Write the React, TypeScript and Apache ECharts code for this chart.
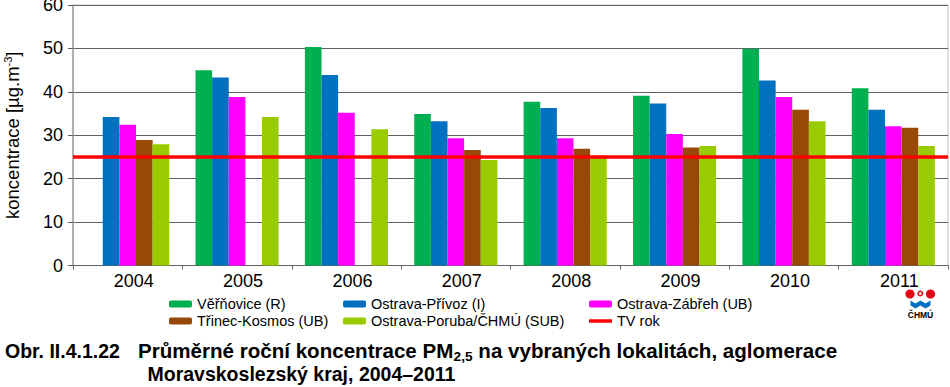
import React, { useEffect, useRef } from "react";
import * as echarts from "echarts";

const years = ["2004", "2005", "2006", "2007", "2008", "2009", "2010", "2011"];
const verinovice = [null, 45.0, 50.3, 34.9, 37.7, 39.1, 49.9, 40.8];
const privoz = [34.2, 43.3, 43.9, 33.2, 36.3, 37.3, 42.6, 35.9];
const zabreh = [32.4, 38.8, 35.2, 29.3, 29.3, 30.3, 38.8, 32.1];
const trinec = [28.9, null, null, 26.6, 26.9, 27.2, 35.9, 31.7];
const poruba = [27.9, 34.2, 31.4, 24.3, 25.3, 27.5, 33.2, 27.5];
const tvRok = 25;

const seriesNames = [
  "Věřňovice (R)",
  "Ostrava-Přívoz (I)",
  "Ostrava-Zábřeh (UB)",
  "Třinec-Kosmos (UB)",
  "Ostrava-Poruba/ČHMÚ (SUB)",
];
const seriesData = [verinovice, privoz, zabreh, trinec, poruba];
const colors = ["#00B050", "#0070C0", "#FF00FF", "#984807", "#99CC00"];
const lineName = "TV rok";

const FONT = "'Liberation Sans', Arial, sans-serif";

echarts.graphic.registerShape(
  "chmuWave",
  echarts.graphic.extendPath(
    "M0,0 L5,3 L10,0 L15,3 L20,0 L20,5 L15,8 L10,5 L5,8 L0,5 Z",
    {}
  )
);

export default function App() {
  const ref = useRef<HTMLDivElement>(null);
  useEffect(() => {
    if (!ref.current) return;
    const chart = echarts.init(ref.current, null, { renderer: "svg" });
    const legendCommon = {
      orient: "vertical",
      itemWidth: 23,
      itemHeight: 7,
      itemGap: 1,
      padding: 0,
      selectedMode: false,
      textStyle: { fontSize: 14.5, fontFamily: FONT, color: "#000", lineHeight: 16 },
    };
    chart.setOption({
      animation: false,
      backgroundColor: "#fff",
      grid: {
        left: 73,
        right: 2,
        top: 5,
        bottom: 121.5,
        show: true,
        borderColor: "#c0c0c0",
        borderWidth: 1,
        outerBoundsMode: "none",
        containLabel: false,
      },
      legend: [
        { ...legendCommon, left: 169, top: 296, data: [seriesNames[0], seriesNames[3]] },
        { ...legendCommon, left: 343, top: 296, data: [seriesNames[1], seriesNames[4]] },
        {
          ...legendCommon,
          left: 589,
          top: 296,
          data: [seriesNames[2], { name: lineName, icon: "path://M0,0H23V3.5H0Z" }],
        },
      ],
      xAxis: {
        type: "category",
        data: years,
        axisLine: { lineStyle: { color: "#606060", width: 1 } },
        axisTick: { show: true, length: 4, lineStyle: { color: "#606060" } },
        axisLabel: {
          fontSize: 18,
          fontFamily: FONT,
          color: "#000",
          margin: 6,
          padding: [0, 0, 0, 12],
        },
      },
      yAxis: {
        type: "value",
        min: 0,
        max: 60,
        interval: 10,
        name: "koncentrace [µg.m{sup|-3}]",
        nameLocation: "middle",
        nameGap: 51,
        nameTextStyle: {
          fontSize: 18.5,
          fontFamily: FONT,
          color: "#000",
          lineHeight: 20,
          rich: {
            sup: { fontSize: 11, fontFamily: FONT, color: "#000", verticalAlign: "top", lineHeight: 14 },
          },
        },
        axisLine: { show: true, lineStyle: { color: "#a0a0a0", width: 1.5 } },
        axisTick: { show: true, length: 5, lineStyle: { color: "#606060" } },
        axisLabel: { fontSize: 18, fontFamily: FONT, color: "#000", margin: 10 },
        splitLine: { lineStyle: { color: "#606060", width: 1 } },
      },
      series: [
        ...seriesNames.map((name, i) => ({
          name,
          type: "bar",
          data: seriesData[i],
          barGap: "0%",
          barCategoryGap: "24%",
          itemStyle: { color: colors[i] },
        })),
        {
          name: lineName,
          type: "line",
          data: [],
          symbol: "none",
          color: "#FF0000",
          itemStyle: { color: "#FF0000" },
          lineStyle: { color: "#FF0000", width: 3.5 },
          markLine: {
            silent: true,
            symbol: "none",
            label: { show: false },
            lineStyle: { color: "#FF0000", width: 3.5, type: "solid" },
            data: [{ yAxis: tvRok }],
            z: 10,
          },
          z: 10,
        },
      ],
      graphic: [
        { type: "circle", shape: { cx: 910, cy: 294, r: 4.6 }, style: { fill: "#E30613" } },
        { type: "circle", shape: { cx: 930.5, cy: 294, r: 4.6 }, style: { fill: "#E30613" } },
        { type: "ring", shape: { cx: 920.3, cy: 293.5, r: 3, r0: 1.4 }, style: { fill: "#E30613" } },
        { type: "chmuWave", x: 910.5, y: 300.5, style: { fill: "#0070C0" } },
        {
          type: "text",
          x: 920.5,
          y: 314.5,
          style: {
            text: "ČHMÚ",
            fontSize: 8.5,
            fontWeight: "bold",
            fontFamily: FONT,
            fill: "#000",
            align: "center",
            verticalAlign: "middle",
          },
        },
        {
          type: "text",
          x: 5,
          y: 339,
          style: {
            text: "Obr. II.4.1.22",
            fontSize: 19.5,
            fontWeight: "bold",
            fontFamily: FONT,
            fill: "#000",
            lineHeight: 24,
            verticalAlign: "top",
          },
        },
        {
          type: "text",
          x: 138,
          y: 339,
          scaleX: 1.055,
          style: {
            text: "Průměrné roční koncentrace PM{sub|2,5} na vybraných lokalitách, aglomerace",
            fontSize: 19.5,
            fontWeight: "bold",
            fontFamily: FONT,
            fill: "#000",
            lineHeight: 24,
            verticalAlign: "top",
            rich: {
              sub: { fontSize: 13, fontWeight: "bold", fontFamily: FONT, fill: "#000", lineHeight: 6, verticalAlign: "bottom" },
            },
          },
        },
        {
          type: "text",
          x: 147.5,
          y: 374.3,
          style: {
            text: "Moravskoslezský kraj, 2004–2011",
            fontSize: 19.5,
            fontWeight: "bold",
            fontFamily: FONT,
            fill: "#000",
            verticalAlign: "middle",
          },
        },
      ],
    });
    return () => chart.dispose();
  }, []);
  return <div ref={ref} style={{ width: 950, height: 387, position: "absolute", left: 0, top: 0 }} />;
}
